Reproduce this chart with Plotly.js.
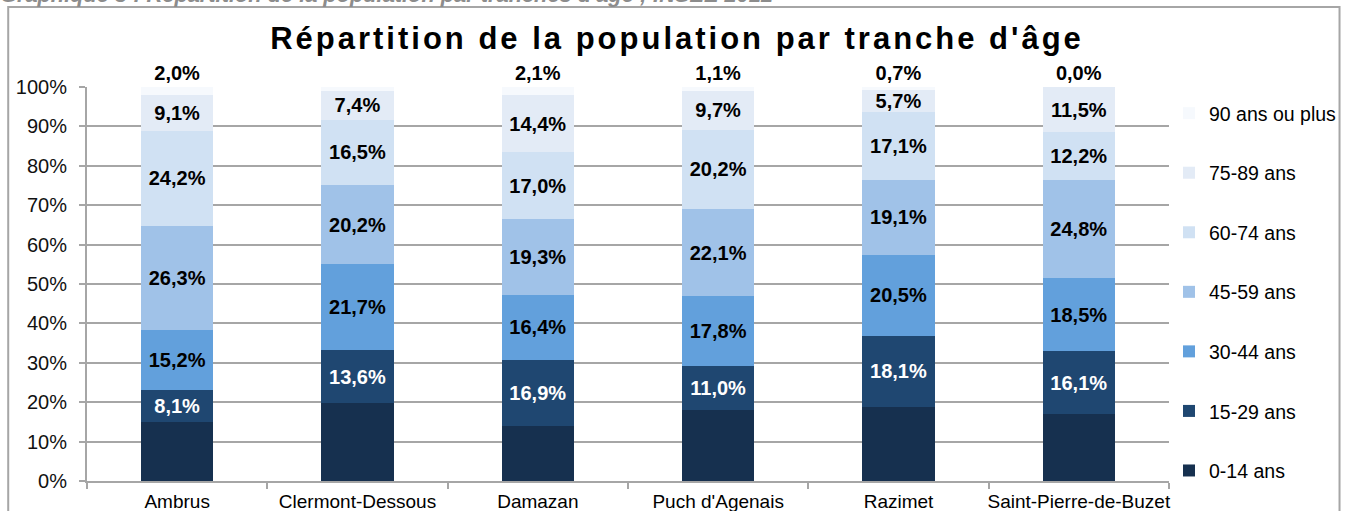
<!DOCTYPE html>
<html>
<head>
<meta charset="utf-8">
<script src="https://cdn.plot.ly/plotly-3.0.1.min.js"></script>
<style>
  html, body { margin: 0; padding: 0; background: #ffffff; }
  #chart { width: 1354px; height: 511px; }
  .gtitle { letter-spacing: 3px; }
</style>
</head>
<body>
<div id="chart"></div>
<script>
const communes = ["Ambrus", "Clermont-Dessous", "Damazan", "Puch d'Agenais", "Razimet", "Saint-Pierre-de-Buzet"];

const age_0_14   = [15.1, 19.7, 13.9, 18.1, 18.8, 16.9];
const age_15_29  = [8.1, 13.6, 16.9, 11.0, 18.1, 16.1];
const age_30_44  = [15.2, 21.7, 16.4, 17.8, 20.5, 18.5];
const age_45_59  = [26.3, 20.2, 19.3, 22.1, 19.1, 24.8];
const age_60_74  = [24.2, 16.5, 17.0, 20.2, 17.1, 12.2];
const age_75_89  = [9.1, 7.4, 14.4, 9.7, 5.7, 11.5];
const age_90plus = [2.0, 0.9, 2.1, 1.1, 0.7, 0.0];

const seriesNames = ["0-14 ans", "15-29 ans", "30-44 ans", "45-59 ans", "60-74 ans", "75-89 ans", "90 ans ou plus"];
const seriesValues = [age_0_14, age_15_29, age_30_44, age_45_59, age_60_74, age_75_89, age_90plus];

const yTickValues = [0, 10, 20, 30, 40, 50, 60, 70, 80, 90, 100];
const yTickLabels = ["0%", "10%", "20%", "30%", "40%", "50%", "60%", "70%", "80%", "90%", "100%"];

const colors = ["#16304F", "#1F4771", "#62A0DC", "#A0C2E8", "#D0E1F3", "#E3EBF6", "#F6F9FD"];
const textColors = ["#000000", "#FFFFFF", "#000000", "#000000", "#000000", "#000000", "#000000"];
const FONT = "Liberation Sans, Arial, sans-serif";

function fmt(v) { return v.toFixed(1).replace(".", ",") + "%"; }

const traces = seriesNames.map((name, i) => {
  const t = {
    type: "bar",
    name: name,
    legendgroup: name,
    legendrank: seriesNames.length - i,
    x: communes,
    y: seriesValues[i],
    width: 0.4,
    marker: { color: colors[i], line: { width: 0 } },
    hoverinfo: "skip",
    cliponaxis: false,
    textangle: 0,
    constraintext: "none",
    textfont: { family: FONT, size: 20, color: textColors[i], weight: "bold" }
  };
  if (i === 0) {
    t.textposition = "none";
  } else if (i === seriesNames.length - 1) {
    t.text = seriesValues[i].map(fmt);
    t.textposition = "outside";
    t.outsidetextfont = { family: FONT, size: 20, color: "#000000", weight: "bold" };
  } else {
    t.text = seriesValues[i].map(fmt);
    t.textposition = "inside";
    t.insidetextanchor = "middle";
    t.insidetextfont = { family: FONT, size: 20, color: textColors[i], weight: "bold" };
  }
  return t;
});

const L = 87, R = 1172, T = 87, B = 481;
const pw = R - L, ph = B - T;
function px(x) { return (x - L) / pw; }
function py(y) { return (B - y) / ph; }

const layout = {
  width: 1354,
  height: 511,
  margin: { l: L, r: 1354 - R, t: T, b: 511 - B, pad: 0 },
  paper_bgcolor: "#ffffff",
  plot_bgcolor: "#ffffff",
  barmode: "stack",
  bargap: 0.6,
  font: { family: FONT, size: 19, color: "#000000" },
  title: {
    text: "Répartition de la population par tranche d'âge",
    font: { family: FONT, size: 31, color: "#000000", weight: "bold" },
    x: 0.5, xref: "container", xanchor: "center",
    y: 1 - 38 / 511, yref: "container", yanchor: "middle"
  },
  xaxis: {
    type: "category",
    tickson: "boundaries",
    ticks: "outside",
    ticklen: 6,
    tickwidth: 2,
    tickcolor: "#A6A6A6",
    tickangle: 0,
    showline: true,
    linecolor: "#A6A6A6",
    linewidth: 2,
    showgrid: false,
    ticklabelstandoff: 2,
    tickfont: { family: FONT, size: 19, color: "#000000" },
    fixedrange: true
  },
  yaxis: {
    range: [0, 100],
    tickvals: yTickValues,
    ticktext: yTickLabels,
    ticks: "outside",
    ticklen: 6,
    tickwidth: 2,
    tickcolor: "#A6A6A6",
    showline: true,
    linecolor: "#A6A6A6",
    linewidth: 2,
    showgrid: true,
    gridcolor: "#A6A6A6",
    gridwidth: 2,
    zeroline: false,
    ticklabelstandoff: 8,
    tickfont: { family: FONT, size: 20, color: "#111111" },
    fixedrange: true
  },
  legend: {
    x: 1.0, xanchor: "left",
    y: py(94), yanchor: "top",
    traceorder: "grouped",
    tracegroupgap: 31.2,
    font: { family: FONT, size: 19.5, color: "#000000" },
    bgcolor: "rgba(0,0,0,0)",
    itemclick: false, itemdoubleclick: false
  },
  shapes: [
    {
      type: "rect", xref: "paper", yref: "paper",
      x0: px(8), x1: px(1343), y0: py(530), y1: py(7),
      line: { color: "#A6A6A6", width: 2 },
      fillcolor: "rgba(0,0,0,0)",
      layer: "below"
    }
  ],
  annotations: [
    {
      text: "<b><i>Graphique 3 : Répartition de la population par tranches d'âge ; INSEE 2012</i></b>",
      xref: "paper", yref: "paper",
      x: px(-2), xanchor: "left",
      y: py(9.5), yanchor: "bottom",
      showarrow: false,
      font: { family: FONT, size: 21.8, color: "#8C8C8C" }
    }
  ]
};

Plotly.newPlot("chart", traces, layout, { displayModeBar: false, staticPlot: true });
</script>
</body>
</html>
